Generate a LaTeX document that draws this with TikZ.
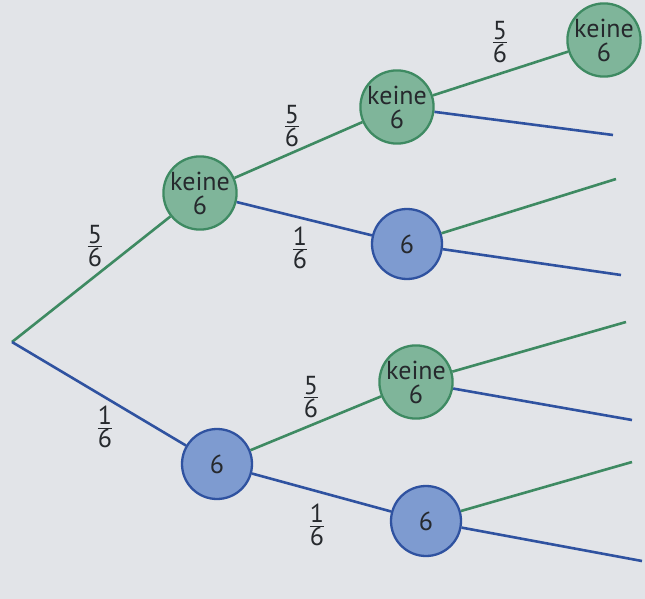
\documentclass[tikz,border=0pt]{standalone}
\usepackage{amsmath}
\usepackage{fontspec}
\setmainfont{PT Sans}
\definecolor{bg}{HTML}{E2E4E8}
\definecolor{gfill}{HTML}{7FB59A}
\definecolor{gline}{HTML}{3E8A62}
\definecolor{bfill}{HTML}{7E9BD0}
\definecolor{bline}{HTML}{2F52A0}
\definecolor{txt}{HTML}{26292D}
\newcommand{\prb}[2]{$\genfrac{}{}{0.9pt}{1}{\mbox{#1}}{\mbox{#2}}$}
\begin{document}
\begin{tikzpicture}[x=1pt,y=-1pt,
  every node/.style={text=txt,font=\fontsize{26}{24}\selectfont},
  gnode/.style={circle,draw=gline,fill=gfill,line width=2.3pt,minimum size=70pt,inner sep=0pt,align=center},
  bnode/.style={circle,draw=bline,fill=bfill,line width=2.3pt,minimum size=70pt,inner sep=0pt,align=center},
  gedge/.style={draw=gline,line width=2.6pt},
  bedge/.style={draw=bline,line width=2.6pt},
  prob/.style={inner sep=0pt}]
\fill[bg] (0,0) rectangle (645,599);
\useasboundingbox (0,0) rectangle (645,599);
\coordinate (r) at (12,342);
\node[gnode] (a) at (200,193) {keine\\6};
\node[bnode] (b) at (217,464) {6};
\node[gnode] (c) at (397,107) {keine\\6};
\node[bnode] (d) at (407,244) {6};
\node[gnode] (e) at (416,382) {keine\\6};
\node[bnode] (f) at (426,521) {6};
\node[gnode,minimum size=72pt] (g) at (604,40) {keine\\6};
\coordinate (c2) at (613,135);
\coordinate (d1) at (616,179);
\coordinate (d2) at (621,275);
\coordinate (e1) at (626,322);
\coordinate (e2) at (632,420);
\coordinate (f1) at (632,462);
\coordinate (f2) at (642,561);
\draw[gedge] (r) -- (a);
\draw[bedge] (r) -- (b);
\draw[gedge] (a) -- (c);
\draw[bedge] (a) -- (d);
\draw[gedge] (c) -- (g);
\draw[bedge] (c) -- (c2);
\draw[gedge] (d) -- (d1);
\draw[bedge] (d) -- (d2);
\draw[gedge] (b) -- (e);
\draw[bedge] (b) -- (f);
\draw[gedge] (e) -- (e1);
\draw[bedge] (e) -- (e2);
\draw[gedge] (f) -- (f1);
\draw[bedge] (f) -- (f2);
\node[prob] (p1) at (95,246) {\prb{5}{6}};
\node[prob] (p2) at (105,427) {\prb{1}{6}};
\node[prob] (p3) at (292,126) {\prb{5}{6}};
\node[prob] (p4) at (300,248) {\prb{1}{6}};
\node[prob] (p5) at (500,42) {\prb{5}{6}};
\node[prob] (p6) at (311,397) {\prb{5}{6}};
\node[prob] (p7) at (317,525) {\prb{1}{6}};
\end{tikzpicture}
\end{document}
